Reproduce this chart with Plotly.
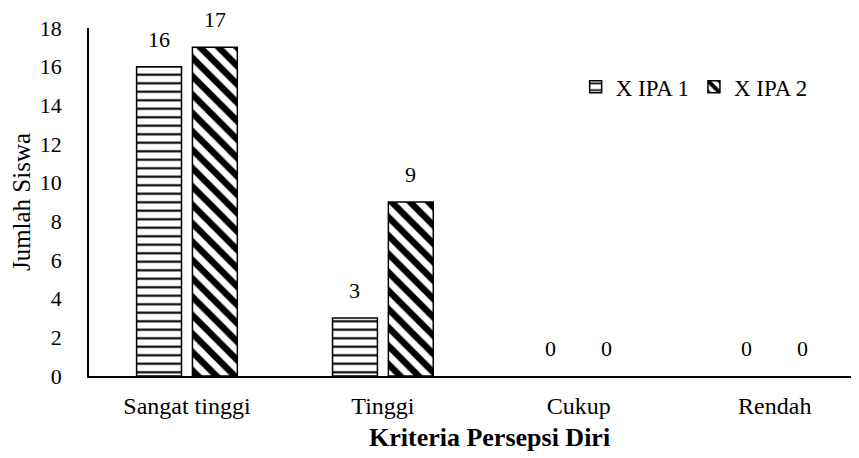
import plotly.graph_objects as go

categories = ["Sangat tinggi", "Tinggi", "Cukup", "Rendah"]
ipa1 = [16, 3, 0, 0]
ipa2 = [17, 9, 0, 0]
series_names = ["X IPA 1", "X IPA 2"]
y_ticks = list(range(0, 19, 2))

FONT = "'Liberation Serif', 'Times New Roman', Times, serif"

def line_widths(vals):
    return [1.5 if v > 0 else 0 for v in vals]

fig = go.Figure()
fig.add_trace(go.Bar(
    x=categories, y=ipa1, name=series_names[0],
    marker=dict(color="white", line=dict(color="black", width=line_widths(ipa1)),
                pattern=dict(shape="-", fgcolor="black", bgcolor="white", fgopacity=1,
                             size=8.5, solidity=0.25, fillmode="overlay")),
))
fig.add_trace(go.Bar(
    x=categories, y=ipa2, name=series_names[1],
    marker=dict(color="white", line=dict(color="black", width=line_widths(ipa2)),
                pattern=dict(shape="\\", fgcolor="black", bgcolor="white", fgopacity=1,
                             size=13, solidity=0.5, fillmode="overlay")),
))

# value labels above bars
for vals, shift in ((ipa1, -28), (ipa2, 28)):
    for c, v in zip(categories, vals):
        fig.add_annotation(x=c, y=v, text=str(v), showarrow=False,
                           xshift=shift, yshift=13, yanchor="bottom",
                           font=dict(family=FONT, size=22, color="black"))

# x-axis title
fig.add_annotation(xref="paper", yref="paper", x=0.52, y=-0.128,
                   xanchor="center", yanchor="top", showarrow=False,
                   text="<b>Kriteria Persepsi Diri</b>",
                   font=dict(family=FONT, size=26, color="black"))

fig.update_layout(
    width=851, height=450,
    margin=dict(l=81, r=0, t=20, b=82),
    paper_bgcolor="white", plot_bgcolor="white",
    barmode="group", bargap=0.43, bargroupgap=0.196,
    font=dict(family=FONT, size=22, color="black"),
    showlegend=True,
    legend=dict(orientation="h", x=0.632, y=0.831, xanchor="left", yanchor="middle",
                font=dict(family=FONT, size=23, color="black"),
                itemwidth=30, bgcolor="rgba(0,0,0,0)"),
    xaxis=dict(range=[-0.5, 3.43], showgrid=False, showline=True, linecolor="black",
               linewidth=1.5, ticks="", ticklabelstandoff=7,
               tickfont=dict(family=FONT, size=24)),
    yaxis=dict(range=[0, 18], tickvals=y_ticks, showgrid=False, showline=True,
               linecolor="black", linewidth=1.5, ticks="", ticklabelstandoff=21,
               zeroline=False, tickfont=dict(family=FONT, size=22),
               title=dict(text="Jumlah Siswa", standoff=12,
                          font=dict(family=FONT, size=25))),
)

fig.write_html("out.html")
